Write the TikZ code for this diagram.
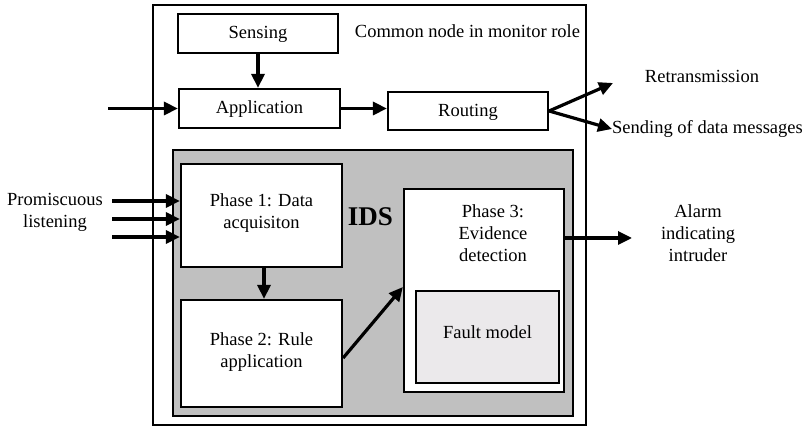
\documentclass[tikz,border=0pt]{standalone}
\usepackage{fontspec}
\setmainfont{Liberation Serif}
\usetikzlibrary{arrows.meta}
\definecolor{idsgray}{HTML}{C0C0C0}
\definecolor{faultgray}{HTML}{EBE9EB}
\begin{document}
\begin{tikzpicture}[x=1pt,y=-1pt,
  box/.style={draw=black,line width=2.2pt,inner sep=0pt,fill=white,
    font=\fontsize{18.5}{22}\selectfont,text height=15pt,text depth=4pt},
  lbl/.style={inner sep=0pt,align=center,font=\fontsize{18.5}{22}\selectfont},
  arr/.style={line width=3.2pt,-{Triangle[length=14pt,width=13pt]}}]
\useasboundingbox (0,0) rectangle (808,427);
% outer
\node[draw=black,line width=2.2pt,inner sep=0pt,minimum width=433pt,minimum height=420pt] (outer) at (369.5,215) {};
\node[lbl] (common) at (467.5,31) {Common node in monitor role};
\node[box,minimum width=160pt,minimum height=39pt] (sens) at (258,33.5) {Sensing};
\node[box,minimum width=161pt,minimum height=39pt] (app) at (259.5,108.5) {Application};
\node[box,minimum width=160pt,minimum height=38pt] (rout) at (468,111) {Routing};
% IDS area
\node[draw=black,line width=2.2pt,fill=idsgray,minimum width=400pt,minimum height=266pt,inner sep=0pt] (ids) at (373,283) {};
\node[inner sep=0pt,font=\bfseries\fontsize{27}{30}\selectfont] (idst) at (370.5,217) {IDS};
\node[box,minimum width=161pt,minimum height=103pt] (p1) at (261.5,215.5) {};
\node[lbl] (p1t) at (261.5,213.5) {Phase 1: Data\\acquisiton};
\node[box,minimum width=161pt,minimum height=107pt] (p2) at (261.5,353.5) {};
\node[lbl] (p2t) at (261.5,352.5) {Phase 2: Rule\\application};
\node[box,minimum width=160pt,minimum height=203pt] (p3) at (484,290.5) {};
\node[lbl] (p3t) at (493,233.5) {Phase 3:\\Evidence\\detection};
\node[box,fill=faultgray,minimum width=143pt,minimum height=92pt] (fault) at (487.5,337) {};
\node[lbl] (faultt) at (487.5,332) {Fault model};
% outside labels
\node[lbl] (prom) at (55,212) {Promiscuous\\listening};
\node[lbl] (retr) at (702,76) {Retransmission};
\node[lbl,anchor=west] (send) at (612,129) {Sending of data messages};
\node[lbl] (alarm) at (698,233.5) {Alarm\\indicating\\intruder};
% coordinates
\coordinate (inapp) at (108,108.5);
\coordinate (rtip) at (613,83);
\coordinate (pl1) at (112,201);
\coordinate (pl2) at (112,219);
\coordinate (pl3) at (112,237);
\coordinate (atip) at (632,238);
% connectors
\draw[arr] (inapp) -- (app.west);
\draw[arr] (sens.south) -- (sens.south |- app.north);
\draw[arr] (app.east) -- (app.east -| rout.west);
\draw[arr] (rout.east) -- (rtip);
\draw[arr] (rout.east) -- (send.west);
\draw[arr] (pl1) -- (pl1 -| p1.west);
\draw[arr] (pl2) -- (pl2 -| p1.west);
\draw[arr] (pl3) -- (pl3 -| p1.west);
\draw[arr] ([xshift=2.5pt]p1.south) -- ([xshift=2.5pt]p2.north);
\draw[arr] ([yshift=-4.5pt]p2.east) -- ([yshift=3.5pt]p3.west);
\draw[arr] ([yshift=52.5pt]p3.east) -- (atip);
\end{tikzpicture}
\end{document}
